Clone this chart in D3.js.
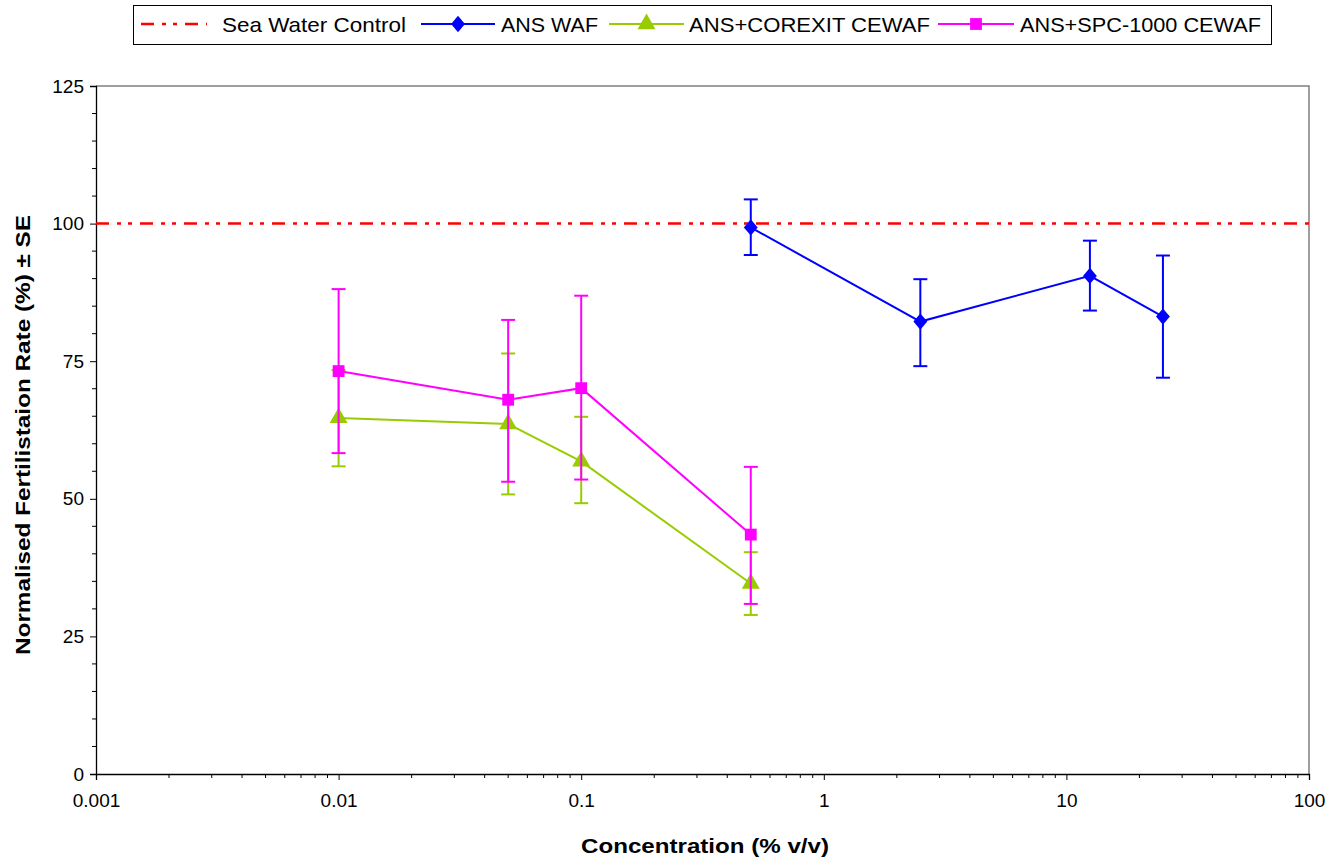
<!DOCTYPE html>
<html>
<head>
<meta charset="utf-8">
<script src="https://cdn.jsdelivr.net/npm/d3@7"></script>
<style>
    body { margin: 0; background: #ffffff; }
    svg { font-family: "Liberation Sans", Arial, sans-serif; }
</style>
</head>
<body>
<div id="chart"></div>
<script>
// Fertilisation rate vs concentration, log x axis with SE error bars

var controlValue = 100;

var wafConc = [0.5, 2.5, 12.5, 25];
var wafMean = [99.3, 82.2, 90.5, 83.1];
var wafHigh = [104.4, 89.9, 96.9, 94.2];
var wafLow = [94.3, 74.1, 84.2, 72.0];

var corexitConc = [0.01, 0.05, 0.1, 0.5];
var corexitMean = [64.7, 63.6, 56.8, 34.6];
var corexitHigh = [73.4, 76.4, 64.9, 40.3];
var corexitLow = [55.9, 50.8, 49.2, 28.9];

var spcConc = [0.01, 0.05, 0.1, 0.5];
var spcMean = [73.2, 68.0, 70.1, 43.5];
var spcHigh = [88.1, 82.5, 86.9, 55.8];
var spcLow = [58.3, 53.1, 53.5, 30.9];

var yTicks = [0, 25, 50, 75, 100, 125];
var xTicks = [0.001, 0.01, 0.1, 1, 10, 100];

var legendLabels = ["Sea Water Control", "ANS WAF", "ANS+COREXIT CEWAF", "ANS+SPC-1000 CEWAF"];

(function() {

    var width = 1333;
    var height = 860;
    var margin = { left: 96, right: 24, top: 86, bottom: 86 };
    var dashDot = "13,8,4,7,4,8";

    var svg = d3.select("#chart")
        .append("svg")
        .attr("width", width)
        .attr("height", height);

    var x = d3.scaleLog()
        .domain([0.001, 100])
        .range([margin.left, width - margin.right]);

    var y = d3.scaleLinear()
        .domain([0, 125])
        .range([height - margin.bottom, margin.top]);

    var plotTop = y(125);
    var plotBottom = y(0);
    var plotLeft = x(0.001);
    var plotRight = x(100);

    // gray frame on top and right
    svg.append("path")
        .attr("d", "M" + plotLeft + "," + plotTop + "H" + plotRight + "V" + plotBottom)
        .attr("fill", "none")
        .attr("stroke", "#808080")
        .attr("stroke-width", 1.5);

    // minor y ticks every 5
    var yMinor = d3.range(0, 126, 5).filter(function(v) {
        return v % 25 !== 0;
    });

    var yAxis = svg.append("g")
        .attr("transform", "translate(" + plotLeft + ",0)");

    yAxis.selectAll(".minor")
        .data(yMinor)
        .enter()
        .append("line")
        .attr("x1", -4)
        .attr("x2", 0)
        .attr("y1", function(d) { return y(d); })
        .attr("y2", function(d) { return y(d); })
        .attr("stroke", "#000");

    yAxis.call(d3.axisLeft(y).tickValues(yTicks).tickSize(6).tickPadding(6).tickFormat(d3.format("d")));
    yAxis.select(".domain").attr("stroke-width", 1.3);
    yAxis.selectAll(".tick text")
        .attr("font-size", "19px")
        .attr("font-family", "Liberation Sans, Arial, sans-serif")
        .attr("fill", "#000");

    // minor x ticks 2..9 per decade
    var xMinor = [];
    [0.001, 0.01, 0.1, 1, 10].forEach(function(dec) {
        for (var k = 2; k <= 9; k++) {
            xMinor.push(dec * k);
        }
    });

    var xAxis = svg.append("g")
        .attr("transform", "translate(0," + plotBottom + ")");

    xAxis.selectAll(".minor")
        .data(xMinor)
        .enter()
        .append("line")
        .attr("x1", function(d) { return x(d); })
        .attr("x2", function(d) { return x(d); })
        .attr("y1", 0)
        .attr("y2", 4)
        .attr("stroke", "#000");

    xAxis.call(d3.axisBottom(x).tickValues(xTicks).tickSize(6).tickPadding(14).tickFormat(function(d) {
        return String(d);
    }));
    xAxis.select(".domain").attr("stroke-width", 1.3);
    xAxis.selectAll(".tick text")
        .attr("font-size", "19px")
        .attr("font-family", "Liberation Sans, Arial, sans-serif")
        .attr("fill", "#000");

    // sea water control line
    svg.append("line")
        .attr("x1", plotLeft)
        .attr("x2", plotRight)
        .attr("y1", y(controlValue))
        .attr("y2", y(controlValue))
        .attr("stroke", "#ff0000")
        .attr("stroke-width", 2.5)
        .attr("stroke-dasharray", dashDot);

    function drawSeries(conc, mean, high, low, color, shape, size) {
        var g = svg.append("g");
        var pts = conc.map(function(c, i) {
            return { c: c, m: mean[i], hi: high[i], lo: low[i] };
        });

        // error bars
        pts.forEach(function(p) {
            g.append("line")
                .attr("x1", x(p.c)).attr("x2", x(p.c))
                .attr("y1", y(p.hi)).attr("y2", y(p.lo))
                .attr("stroke", color).attr("stroke-width", 2);
            [p.hi, p.lo].forEach(function(v) {
                g.append("line")
                    .attr("x1", x(p.c) - 7).attr("x2", x(p.c) + 7)
                    .attr("y1", y(v)).attr("y2", y(v))
                    .attr("stroke", color).attr("stroke-width", 2);
            });
        });

        g.append("path")
            .datum(pts)
            .attr("fill", "none")
            .attr("stroke", color)
            .attr("stroke-width", 2)
            .attr("d", d3.line()
                .x(function(d) { return x(d.c); })
                .y(function(d) { return y(d.m); }));

        g.selectAll(".mark")
            .data(pts)
            .enter()
            .append("path")
            .attr("transform", function(d) {
                return "translate(" + x(d.c) + "," + y(d.m) + ")";
            })
            .attr("d", d3.symbol().type(shape).size(size))
            .attr("fill", color);
    }

    var diamond = {
        draw: function(ctx, size) {
            var r = Math.sqrt(size) / 1.6;
            ctx.moveTo(0, -r);
            ctx.lineTo(r * 0.85, 0);
            ctx.lineTo(0, r);
            ctx.lineTo(-r * 0.85, 0);
            ctx.closePath();
        }
    };

    drawSeries(corexitConc, corexitMean, corexitHigh, corexitLow, "#99cc00", d3.symbolTriangle, 140);
    drawSeries(spcConc, spcMean, spcHigh, spcLow, "#ff00ff", d3.symbolSquare, 140);
    drawSeries(wafConc, wafMean, wafHigh, wafLow, "#0000ff", diamond, 170);

    // legend
    var legend = svg.append("g");
    legend.append("rect")
        .attr("x", 133.5).attr("y", 5.5)
        .attr("width", 1138).attr("height", 39)
        .attr("fill", "#fff")
        .attr("stroke", "#000")
        .attr("stroke-width", 1);

    var legendItems = [
        { label: legendLabels[0], color: "#ff0000", x0: 141, x1: 207, tx: 222, tw: 184, dash: dashDot, shape: null },
        { label: legendLabels[1], color: "#0000ff", x0: 421, x1: 495, tx: 501, tw: 97, dash: null, shape: diamond, size: 170 },
        { label: legendLabels[2], color: "#99cc00", x0: 609, x1: 684, tx: 689, tw: 241, dash: null, shape: d3.symbolTriangle, size: 140 },
        { label: legendLabels[3], color: "#ff00ff", x0: 938, x1: 1014, tx: 1020, tw: 241, dash: null, shape: d3.symbolSquare, size: 140 }
    ];

    var ly = 24;
    legendItems.forEach(function(it) {
        legend.append("line")
            .attr("x1", it.x0).attr("x2", it.x1)
            .attr("y1", ly).attr("y2", ly)
            .attr("stroke", it.color)
            .attr("stroke-width", it.dash ? 2.5 : 2)
            .attr("stroke-dasharray", it.dash);
        if (it.shape) {
            legend.append("path")
                .attr("transform", "translate(" + ((it.x0 + it.x1) / 2) + "," + ly + ")")
                .attr("d", d3.symbol().type(it.shape).size(it.size))
                .attr("fill", it.color);
        }
        legend.append("text")
            .attr("x", it.tx)
            .attr("y", ly + 8)
            .attr("font-size", "21px")
            .attr("textLength", it.tw)
            .attr("lengthAdjust", "spacingAndGlyphs")
            .attr("fill", "#000")
            .text(it.label);
    });

    // axis titles
    svg.append("text")
        .attr("x", 705)
        .attr("y", 853)
        .attr("text-anchor", "middle")
        .attr("font-size", "21px")
        .attr("font-weight", "bold")
        .attr("textLength", 248)
        .attr("lengthAdjust", "spacingAndGlyphs")
        .text("Concentration (% v/v)");

    svg.append("text")
        .attr("transform", "translate(30,435) rotate(-90)")
        .attr("text-anchor", "middle")
        .attr("font-size", "21px")
        .attr("font-weight", "bold")
        .attr("textLength", 440)
        .attr("lengthAdjust", "spacingAndGlyphs")
        .text("Normalised Fertilistaion Rate (%) \u00b1 SE");

})();
</script>
</body>
</html>
